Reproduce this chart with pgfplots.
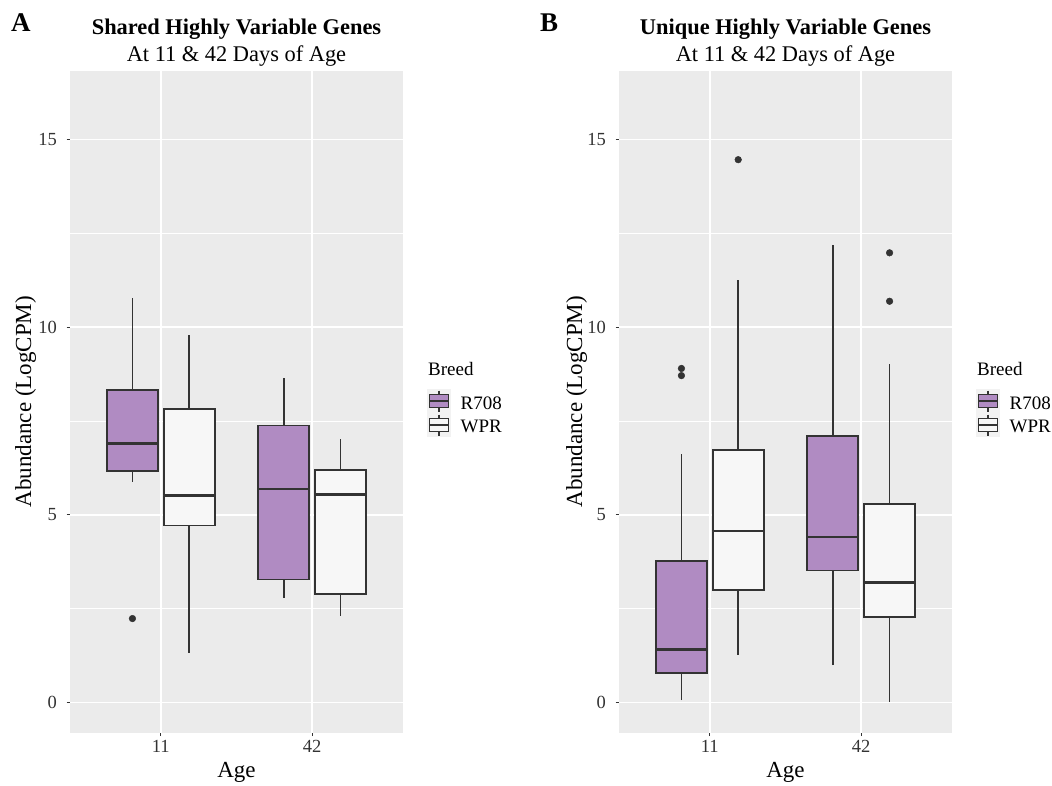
\documentclass[border=0pt]{standalone}
\usepackage{fontspec}
\setmainfont{Liberation Serif}
\usepackage{pgfplots}
\pgfplotsset{compat=1.18}
\usepgfplotslibrary{statistics}

\definecolor{panelbg}{HTML}{EBEBEB}
\definecolor{purp}{HTML}{B08BC2}
\definecolor{wpr}{HTML}{F7F7F7}
\definecolor{dk}{HTML}{333333}
\definecolor{keybg}{HTML}{F2F2F2}

\pgfplotsset{
  ggpanel/.style={
    width=333pt, height=662pt, scale only axis,
    anchor=south west,
    xmin=0.4, xmax=2.6, ymin=-0.8, ymax=16.83,
    axis background/.style={fill=panelbg},
    axis line style={draw=none},
    xtick={1,2}, xticklabels={11,42},
    ytick={0,5,10,15},
    minor ytick={2.5,7.5,12.5},
    grid=both,
    major grid style={white, line width=1.5pt},
    minor grid style={white, line width=0.75pt},
    tick align=outside,
    tick pos=left,
    major tick length=3.5pt,
    minor tick length=0pt,
    major tick style={dk, line width=1pt},
    /pgf/number format/assume math mode=true,
    tick label style={font=\fontsize{18.5}{18.5}\selectfont, text=dk},
    xticklabel style={inner sep=0pt, anchor=north, yshift=-3.5pt},
    yticklabel style={inner sep=0pt, anchor=east, xshift=-9.5pt},
    boxplot/draw direction=y,
    boxplot/box extend=0.3375,
    boxplot/whisker extend=0,
    boxplot/every whisker/.style={draw=dk, line width=1.8pt},
    boxplot/every box/.style={draw=dk, line width=1.8pt},
    boxplot/every median/.style={draw=dk, line width=2.8pt},
  },
  rbox/.style={draw=dk, fill=purp, line width=1.8pt, solid,
    mark=*, mark size=3.3pt, mark options={draw=dk, fill=dk, line width=0.5pt}},
  wbox/.style={draw=dk, fill=wpr, line width=1.8pt, solid,
    mark=*, mark size=3.3pt, mark options={draw=dk, fill=dk, line width=0.5pt}},
}

\newcommand{\legendkeys}[1]{%
  \begin{scope}[xshift=#1]
    \node[anchor=base west, inner sep=0pt, font=\fontsize{19}{19}\selectfont] at (428pt,-375.5pt) {Breed};
    % R708 key
    \fill[keybg] (427pt,-389pt) rectangle (451pt,-413pt);
    \draw[dk, line width=1.3pt] (439pt,-390.5pt) -- (439pt,-411.5pt);
    \filldraw[draw=dk, fill=purp, line width=1.3pt] (429.5pt,-394.5pt) rectangle (448.5pt,-407.5pt);
    \draw[dk, line width=2.2pt] (429.5pt,-401pt) -- (448.5pt,-401pt);
    % WPR key
    \fill[keybg] (427pt,-413pt) rectangle (451pt,-437pt);
    \draw[dk, line width=1.3pt] (439pt,-414.5pt) -- (439pt,-435.5pt);
    \filldraw[draw=dk, fill=wpr, line width=1.3pt] (429.5pt,-418.5pt) rectangle (448.5pt,-431.5pt);
    \draw[dk, line width=2.2pt] (429.5pt,-425pt) -- (448.5pt,-425pt);
    \node[anchor=base west, inner sep=0pt, font=\fontsize{19}{19}\selectfont] at (460.5pt,-409pt) {R708};
    \node[anchor=base west, inner sep=0pt, font=\fontsize{19}{19}\selectfont] at (460.5pt,-432pt) {WPR};
  \end{scope}%
}

\begin{document}
\begin{tikzpicture}
\useasboundingbox (0,0) rectangle (1052pt,-786pt);

% ---------------- Panel A ----------------
\begin{axis}[ggpanel, at={(70pt,-732.7pt)}]
\addplot[rbox, boxplot prepared={draw position=0.8125,
  lower whisker=5.88, lower quartile=6.17, median=6.91,
  upper quartile=8.33, upper whisker=10.78}] coordinates {(0,2.24)};
\addplot[wbox, boxplot prepared={draw position=1.1875,
  lower whisker=1.33, lower quartile=4.72, median=5.52,
  upper quartile=7.82, upper whisker=9.79}] coordinates {};
\addplot[rbox, boxplot prepared={draw position=1.8125,
  lower whisker=2.80, lower quartile=3.28, median=5.69,
  upper quartile=7.38, upper whisker=8.65}] coordinates {};
\addplot[wbox, boxplot prepared={draw position=2.1875,
  lower whisker=2.31, lower quartile=2.90, median=5.54,
  upper quartile=6.20, upper whisker=7.03}] coordinates {};
\end{axis}

% ---------------- Panel B ----------------
\begin{axis}[ggpanel, at={(619pt,-732.7pt)}]
\addplot[rbox, boxplot prepared={draw position=0.8125,
  lower whisker=0.06, lower quartile=0.80, median=1.41,
  upper quartile=3.78, upper whisker=6.62}] coordinates {(0,8.90) (0,8.71)};
\addplot[wbox, boxplot prepared={draw position=1.1875,
  lower whisker=1.27, lower quartile=3.00, median=4.57,
  upper quartile=6.73, upper whisker=11.25}] coordinates {(0,14.46)};
\addplot[rbox, boxplot prepared={draw position=1.8125,
  lower whisker=0.99, lower quartile=3.52, median=4.41,
  upper quartile=7.11, upper whisker=12.20}] coordinates {};
\addplot[wbox, boxplot prepared={draw position=2.1875,
  lower whisker=0.02, lower quartile=2.29, median=3.19,
  upper quartile=5.30, upper whisker=9.02}] coordinates {(0,11.98) (0,10.69)};
\end{axis}

% ---------------- Titles ----------------
\node[anchor=base west, inner sep=0pt, font=\bfseries\fontsize{27}{27}\selectfont] at (11pt,-32pt) {A};
\node[anchor=base, inner sep=0pt, font=\bfseries\fontsize{22.4}{22.4}\selectfont] at (236.5pt,-35pt) {Shared Highly Variable Genes};
\node[anchor=base, inner sep=0pt, font=\fontsize{22.4}{22.4}\selectfont] at (236.5pt,-62pt) {At 11 \& 42 Days of Age};

\node[anchor=base west, inner sep=0pt, font=\bfseries\fontsize{27}{27}\selectfont] at (540pt,-32pt) {B};
\node[anchor=base, inner sep=0pt, font=\bfseries\fontsize{22.4}{22.4}\selectfont] at (785.5pt,-35pt) {Unique Highly Variable Genes};
\node[anchor=base, inner sep=0pt, font=\fontsize{22.4}{22.4}\selectfont] at (785.5pt,-62pt) {At 11 \& 42 Days of Age};

% ---------------- Axis titles ----------------
\node[rotate=90, anchor=base, inner sep=0pt, font=\fontsize{23}{23}\selectfont] at (31pt,-401.7pt) {Abundance (LogCPM)};
\node[rotate=90, anchor=base, inner sep=0pt, font=\fontsize{23}{23}\selectfont] at (582pt,-401.7pt) {Abundance (LogCPM)};
\node[anchor=base, inner sep=0pt, font=\fontsize{23}{23}\selectfont] at (236.5pt,-777pt) {Age};
\node[anchor=base, inner sep=0pt, font=\fontsize{23}{23}\selectfont] at (785.5pt,-777pt) {Age};

% ---------------- Legends ----------------
\legendkeys{0pt}
\legendkeys{549pt}
\end{tikzpicture}
\end{document}
